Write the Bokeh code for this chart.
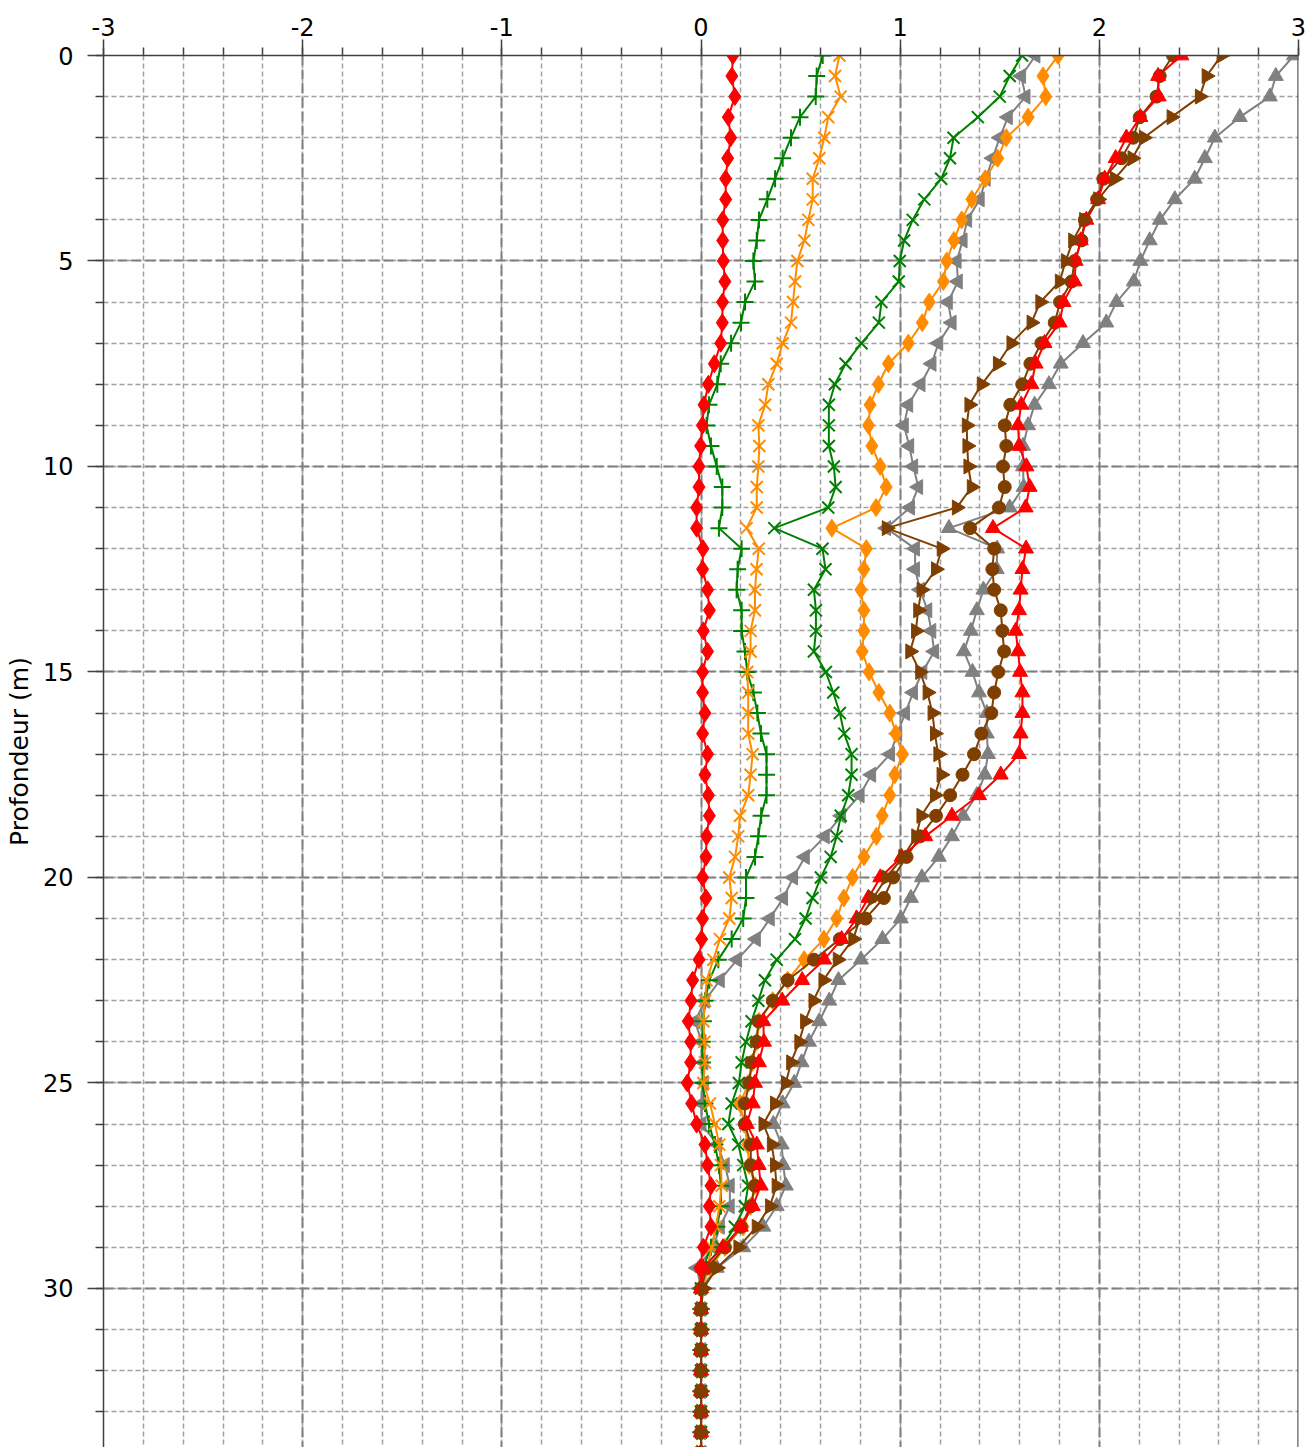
import math
from bokeh.plotting import figure
from bokeh.models import Range1d, FixedTicker, Span, CustomJSTickFormatter
from bokeh.embed import file_html
from bokeh.resources import INLINE

# depth (m), one reading every 0.5 m from 0 to 34 m
depth = [i * 0.5 for i in range(69)]

tail = [0.0, 0.0, 0.0, 0.0, 0.0, 0.0, 0.0, 0.0]  # 30.5 .. 34 m

red_diamond = [0.16, 0.155, 0.17, 0.137, 0.149, 0.134, 0.124, 0.124, 0.109, 0.109, 0.112, 0.12, 0.108,
               0.107, 0.099, 0.067, 0.037, 0.015, 0.007, -0.002, -0.01, -0.01, -0.022, -0.022, 0.01,
               0.008, 0.033, 0.042, 0.012, 0.033, 0.008, 0.008, 0.02, 0.008, 0.033, 0.02, 0.037, 0.042,
               0.028, 0.025, 0.008, 0.025, 0.008, 0.003, -0.01, -0.042, -0.05, -0.064, -0.052, -0.052, -0.069,
               -0.047, -0.022, 0.02, 0.033, 0.05, 0.042, 0.05, 0.012, -0.005, 0.0] + tail

green_plus = [0.611, 0.581, 0.576, 0.497, 0.452, 0.41, 0.372, 0.333, 0.291, 0.28, 0.263, 0.271, 0.221,
              0.201, 0.151, 0.099, 0.082, 0.04, 0.028, 0.05, 0.079, 0.107, 0.107, 0.09, 0.204,
              0.184, 0.179, 0.204, 0.204, 0.221, 0.232, 0.263, 0.283, 0.301, 0.329, 0.329, 0.329, 0.302,
              0.288, 0.271, 0.226, 0.226, 0.212, 0.154, 0.087, 0.042, 0.02, 0.012, 0.007, 0.007, 0.01,
              0.02, 0.04, 0.07, 0.09, 0.1, 0.1, 0.08, 0.05, 0.01, 0.0] + tail

orange_x = [0.695, 0.673, 0.701, 0.639, 0.619, 0.594, 0.561, 0.561, 0.539, 0.519, 0.484, 0.472, 0.462,
            0.452, 0.41, 0.38, 0.338, 0.322, 0.288, 0.293, 0.288, 0.28, 0.28, 0.229, 0.29,
            0.279, 0.271, 0.271, 0.249, 0.249, 0.232, 0.237, 0.237, 0.237, 0.259, 0.249, 0.237, 0.196,
            0.187, 0.171, 0.142, 0.154, 0.142, 0.095, 0.062, 0.028, 0.02, 0.012, 0.017, 0.02, 0.012,
            0.045, 0.07, 0.092, 0.1, 0.104, 0.092, 0.075, 0.055, 0.03, 0.0] + tail

green_x = [1.612, 1.55, 1.5, 1.39, 1.268, 1.25, 1.206, 1.121, 1.063, 1.02, 0.998, 0.993, 0.906,
           0.893, 0.806, 0.726, 0.672, 0.642, 0.642, 0.642, 0.667, 0.676, 0.639, 0.368, 0.61,
           0.625, 0.567, 0.577, 0.577, 0.567, 0.627, 0.664, 0.697, 0.719, 0.756, 0.756, 0.739, 0.702,
           0.681, 0.651, 0.602, 0.56, 0.525, 0.472, 0.38, 0.321, 0.288, 0.254, 0.226, 0.204, 0.19,
           0.154, 0.137, 0.187, 0.212, 0.237, 0.22, 0.17, 0.104, 0.012, 0.0] + tail

orange_diamond = [1.793, 1.717, 1.731, 1.642, 1.533, 1.49, 1.427, 1.36, 1.309, 1.27, 1.234, 1.217, 1.146,
                  1.111, 1.041, 0.941, 0.891, 0.849, 0.841, 0.858, 0.9, 0.93, 0.879, 0.657, 0.83,
                  0.818, 0.803, 0.818, 0.818, 0.809, 0.844, 0.893, 0.948, 0.978, 1.012, 0.973, 0.948, 0.91,
                  0.881, 0.818, 0.761, 0.717, 0.681, 0.617, 0.518, 0.435, 0.36, 0.291, 0.279, 0.259, 0.24,
                  0.196, 0.217, 0.234, 0.242, 0.271, 0.249, 0.212, 0.12, 0.045, 0.0] + tail

gray_left = [1.68, 1.608, 1.63, 1.541, 1.5, 1.464, 1.43, 1.40, 1.337, 1.314, 1.284, 1.29, 1.24,
             1.259, 1.192, 1.158, 1.103, 1.041, 1.019, 1.046, 1.066, 1.091, 1.05, 0.93, 1.075,
             1.075, 1.1, 1.137, 1.157, 1.171, 1.112, 1.065, 1.025, 0.986, 0.95, 0.855, 0.797, 0.704,
             0.622, 0.522, 0.463, 0.413, 0.346, 0.276, 0.182, 0.095, 0.02, -0.03, 0.003, 0.012, 0.015,
             0.003, 0.003, 0.082, 0.12, 0.145, 0.145, 0.095, 0.062, -0.02, 0.0] + tail

red_triangle = [2.412, 2.295, 2.298, 2.206, 2.136, 2.082, 2.027, 1.994, 1.935, 1.907, 1.881, 1.876, 1.82,
                1.801, 1.725, 1.68, 1.659, 1.608, 1.592, 1.597, 1.634, 1.65, 1.63, 1.466, 1.632,
                1.614, 1.605, 1.597, 1.58, 1.592, 1.602, 1.614, 1.614, 1.605, 1.597, 1.505, 1.396, 1.26,
                1.126, 1.007, 0.9, 0.84, 0.781, 0.706, 0.619, 0.508, 0.408, 0.313, 0.316, 0.291, 0.271,
                0.26, 0.23, 0.28, 0.29, 0.3, 0.26, 0.2, 0.11, 0.01, 0.0] + tail

brown_circle = [2.37, 2.303, 2.287, 2.203, 2.17, 2.111, 2.02, 1.989, 1.927, 1.91, 1.876, 1.86, 1.803,
                1.776, 1.709, 1.654, 1.613, 1.553, 1.525, 1.533, 1.516, 1.525, 1.496, 1.351, 1.472,
                1.463, 1.472, 1.505, 1.513, 1.522, 1.493, 1.472, 1.458, 1.408, 1.371, 1.313, 1.251, 1.18,
                1.1, 1.032, 0.965, 0.918, 0.826, 0.697, 0.567, 0.435, 0.36, 0.288, 0.279, 0.254, 0.242,
                0.22, 0.22, 0.25, 0.25, 0.27, 0.25, 0.2, 0.12, 0.03, 0.0] + tail

brown_right = [2.613, 2.538, 2.504, 2.362, 2.223, 2.166, 2.077, 1.994, 1.923, 1.868, 1.831, 1.801, 1.703,
               1.659, 1.558, 1.49, 1.409, 1.347, 1.334, 1.337, 1.342, 1.359, 1.284, 0.932, 1.208,
               1.179, 1.107, 1.09, 1.079, 1.05, 1.1, 1.137, 1.162, 1.174, 1.191, 1.207, 1.174, 1.106,
               1.08, 1.015, 0.931, 0.865, 0.798, 0.764, 0.686, 0.614, 0.564, 0.522, 0.493, 0.452, 0.426,
               0.371, 0.313, 0.355, 0.371, 0.379, 0.346, 0.279, 0.187, 0.08, 0.012] + tail

gray_up = [2.977, 2.886, 2.856, 2.705, 2.58, 2.53, 2.479, 2.379, 2.304, 2.253, 2.206, 2.173, 2.086,
           2.035, 1.918, 1.806, 1.747, 1.675, 1.642, 1.617, 1.617, 1.62, 1.55, 1.245, 1.487,
           1.485, 1.418, 1.385, 1.355, 1.32, 1.363, 1.396, 1.435, 1.435, 1.441, 1.425, 1.385, 1.316,
           1.26, 1.194, 1.109, 1.054, 1.003, 0.911, 0.803, 0.69, 0.644, 0.594, 0.542, 0.505, 0.468,
           0.41, 0.363, 0.405, 0.413, 0.426, 0.38, 0.313, 0.212, 0.079, 0.0] + tail

x_ticks = [-3, -2, -1, 0, 1, 2, 3]
x_minor = [-3 + 0.2 * i for i in range(31)]
y_ticks = [0, 5, 10, 15, 20, 25, 30]
y_minor = list(range(0, 35))

RED = "#FF0000"
GREEN = "#008000"
ORANGE = "#FF8C00"
GRAY = "#808080"
BROWN = "#7F3F00"

p = figure(width=1308, height=1447,
           x_range=Range1d(-3, 3), y_range=Range1d(33.87, 0),
           x_axis_location="above",
           output_backend="svg", toolbar_location=None,
           min_border_left=103, min_border_top=55, min_border_right=10, min_border_bottom=0)
p.outline_line_color = None
p.background_fill_color = "white"
p.border_fill_color = "white"

p.xaxis.ticker = FixedTicker(ticks=x_ticks, minor_ticks=x_minor)
p.yaxis.ticker = FixedTicker(ticks=y_ticks, minor_ticks=y_minor)
p.xaxis.formatter = CustomJSTickFormatter(code="return String(tick);")
p.yaxis.formatter = CustomJSTickFormatter(code="return String(tick);")

for ax in (p.xaxis[0], p.yaxis[0]):
    ax.axis_line_color = "#404040"
    ax.axis_line_width = 1.5
    ax.major_tick_line_color = "#404040"
    ax.minor_tick_line_color = "#404040"
    ax.major_tick_line_width = 1.5
    ax.minor_tick_line_width = 1.5
    ax.major_tick_out = 16
    ax.major_tick_in = 0
    ax.minor_tick_out = 8
    ax.minor_tick_in = 0
    ax.major_label_text_font = "DejaVu Sans"
    ax.major_label_text_font_size = "24px"
    ax.major_label_text_color = "black"

p.xaxis.major_label_standoff = 4
p.yaxis.major_label_standoff = 14
p.yaxis.axis_label = "Profondeur (m)"
p.yaxis.axis_label_text_font = "DejaVu Sans"
p.yaxis.axis_label_text_font_size = "25px"
p.yaxis.axis_label_text_font_style = "normal"
p.yaxis.axis_label_text_color = "black"
p.yaxis.axis_label_standoff = 6

for g in (p.xgrid[0], p.ygrid[0]):
    g.grid_line_color = "#808080"
    g.grid_line_width = 2
    g.grid_line_dash = "10 4"
    g.minor_grid_line_color = "#a0a0a0"
    g.minor_grid_line_width = 1.5
    g.minor_grid_line_dash = "5 3"

p.add_layout(Span(location=3, dimension="height", line_color="#606060", line_width=2.5))

def series(xs, color, marker, size, angle=0.0, fill=True, mlw=1.0):
    p.line(xs, depth, line_color=color, line_width=2)
    p.scatter(xs, depth, marker=marker, size=size, angle=angle,
              line_color=color, fill_color=color if fill else None, line_width=mlw)

series(gray_up, GRAY, "triangle", 15)
series(gray_left, GRAY, "triangle", 15, angle=math.pi / 2)
series(green_plus, GREEN, "cross", 17, fill=False, mlw=2)
series(orange_x, ORANGE, "x", 17, fill=False, mlw=2)
series(green_x, GREEN, "x", 17, fill=False, mlw=2)
series(orange_diamond, ORANGE, "diamond", 18)
series(red_diamond, RED, "diamond", 18)
series(brown_circle, BROWN, "circle", 13)
series(red_triangle, RED, "triangle", 15)
series(brown_right, BROWN, "triangle", 15, angle=-math.pi / 2)

open("out.html", "w").write(file_html(p, INLINE))
